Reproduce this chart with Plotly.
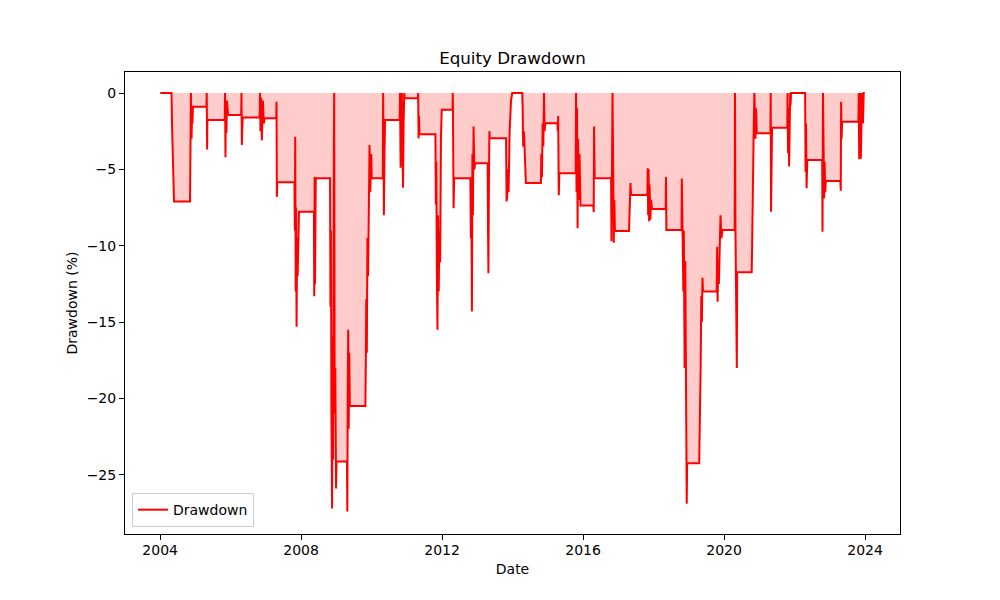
import plotly.graph_objects as go

# Drawdown series (%)
dates = [
    "2004-01-02", "2004-04-28", "2004-05-03", "2004-05-08", "2004-05-14", "2004-05-24",
    "2004-11-06", "2004-11-09", "2004-11-12", "2004-11-15", "2004-11-18", "2004-11-22",
    "2004-11-26", "2004-12-01", "2004-12-06",
    "2005-04-25", "2005-04-28", "2005-05-02", "2005-05-05",
    "2005-11-01", "2005-11-04", "2005-11-08", "2005-11-12", "2005-11-18", "2005-11-24", "2005-12-05",
    "2006-04-20", "2006-04-23", "2006-04-27", "2006-05-02", "2006-05-06",
    "2006-10-28", "2006-11-01", "2006-11-06", "2006-11-12", "2006-11-20", "2006-12-01",
    "2006-12-10", "2006-12-20",
    "2007-04-18", "2007-04-21", "2007-04-25", "2007-04-29",
    "2007-10-24", "2007-10-28", "2007-11-01", "2007-11-06", "2007-11-10", "2007-11-15",
    "2007-11-20", "2007-11-26", "2007-12-03", "2007-12-10",
    "2008-05-13", "2008-05-16", "2008-05-20", "2008-05-24", "2008-05-28", "2008-06-01",
    "2008-10-27", "2008-10-31", "2008-11-05", "2008-11-10", "2008-11-17", "2008-11-22",
    "2008-11-28", "2008-12-05", "2008-12-09", "2008-12-14", "2008-12-20", "2008-12-28",
    "2009-01-02",
    "2009-04-20", "2009-04-24", "2009-04-28", "2009-05-03", "2009-05-08", "2009-05-14", "2009-05-20",
    "2009-10-28", "2009-11-02", "2009-11-06", "2009-11-12", "2009-11-18", "2009-11-25",
    "2009-12-03", "2009-12-10", "2009-12-18", "2009-12-28", "2010-01-02",
    "2010-04-27", "2010-04-30", "2010-05-04", "2010-05-08", "2010-05-14", "2010-05-20",
    "2010-10-18", "2010-10-22", "2010-10-28", "2010-11-03", "2010-11-10", "2010-11-16",
    "2010-11-22", "2010-11-28", "2010-12-05", "2010-12-10",
    "2011-04-25", "2011-04-28", "2011-05-02", "2011-05-06", "2011-05-12",
    "2011-10-24", "2011-10-28", "2011-11-02", "2011-11-08", "2011-11-14", "2011-11-20",
    "2011-11-27", "2011-12-04", "2011-12-12", "2011-12-20", "2011-12-28",
    "2012-04-18", "2012-04-21", "2012-04-25", "2012-04-29", "2012-05-05",
    "2012-10-20", "2012-10-25", "2012-10-30", "2012-11-05", "2012-11-10", "2012-11-15",
    "2012-11-22", "2012-11-30", "2012-12-08",
    "2013-04-17", "2013-04-21", "2013-04-25", "2013-04-30", "2013-05-05", "2013-05-10",
    "2013-10-25", "2013-10-30", "2013-11-05", "2013-11-12", "2013-11-20", "2013-12-01",
    "2013-12-15", "2013-12-28",
    "2014-04-10", "2014-04-14", "2014-04-20", "2014-04-28", "2014-05-06", "2014-05-18",
    "2014-10-21", "2014-10-25", "2014-11-01", "2014-11-08", "2014-11-15", "2014-11-22",
    "2014-11-28", "2014-12-05",
    "2015-04-10", "2015-04-14", "2015-04-18", "2015-04-24", "2015-04-30",
    "2015-10-16", "2015-10-20", "2015-10-25", "2015-10-30", "2015-11-05", "2015-11-10",
    "2015-11-18", "2015-11-25", "2015-12-05",
    "2016-04-16", "2016-04-20", "2016-04-24", "2016-04-30",
    "2016-10-17", "2016-10-21", "2016-10-26", "2016-11-01", "2016-11-08", "2016-11-14",
    "2016-11-20", "2016-11-26",
    "2017-04-21", "2017-04-25", "2017-05-01", "2017-05-06", "2017-05-12",
    "2017-10-28", "2017-11-01", "2017-11-05", "2017-11-10", "2017-11-15", "2017-11-20",
    "2017-11-28", "2017-12-05", "2017-12-15",
    "2018-05-06", "2018-05-09", "2018-05-13",
    "2018-10-17", "2018-10-20", "2018-10-25", "2018-10-30", "2018-11-05", "2018-11-10",
    "2018-11-18", "2018-11-25", "2018-12-03", "2018-12-10", "2018-12-14",
    "2019-04-18", "2019-04-22", "2019-04-27", "2019-05-03", "2019-05-10", "2019-05-16",
    "2019-05-22", "2019-05-28",
    "2019-10-17", "2019-10-21", "2019-10-26", "2019-11-01", "2019-11-08", "2019-11-15",
    "2019-11-25", "2019-12-05", "2019-12-15",
    "2020-04-20", "2020-04-23", "2020-04-28", "2020-05-05", "2020-05-12", "2020-05-16",
    "2020-10-13", "2020-10-17", "2020-10-22", "2020-10-28", "2020-11-04", "2020-11-10",
    "2020-11-16", "2020-11-22", "2020-11-28", "2020-12-05",
    "2021-04-25", "2021-04-28", "2021-05-02", "2021-05-06", "2021-05-12",
    "2021-10-17", "2021-10-20", "2021-10-25", "2021-10-30", "2021-11-05", "2021-11-10",
    "2021-11-16", "2021-11-20", "2021-11-25",
    "2022-04-20", "2022-04-24", "2022-04-29", "2022-05-05", "2022-05-12",
    "2022-10-14", "2022-10-17", "2022-10-22", "2022-10-28", "2022-11-03", "2022-11-08",
    "2022-11-14", "2022-11-20",
    "2023-04-20", "2023-04-24", "2023-04-28", "2023-05-03", "2023-05-08",
    "2023-10-24", "2023-10-28", "2023-11-01", "2023-11-06", "2023-11-12", "2023-11-18",
    "2023-11-24", "2023-12-01", "2023-12-10", "2023-12-18", "2023-12-29",
]

drawdown = [
    0, 0, -2.0, -3.5, -5.5, -7.1,
    -7.1, -5.5, -3.2, 0, -2.5, -3.0,
    -1.5, -2.0, -0.9,
    -0.9, 0, -3.7, -1.77,
    -1.77, 0, -4.2, -1.0, -2.6, -0.5, -1.44,
    -1.44, 0, -3.4, -2.2, -1.6,
    -1.6, 0, -2.5, -0.3, -3.1, -0.5,
    -2.0, -1.66,
    -1.66, -0.57, -6.8, -5.85,
    -5.85, -9.0, -2.86, -13.0, -7.5, -15.3,
    -9.5, -12.0, -8.0, -7.77,
    -7.77, -13.3, -5.5, -12.5, -9.0, -5.58,
    -5.58, -14.0, -9.0, -21.0, -27.2, -16.0,
    -24.0, -4.0, 0, -21.0, -18.0, -25.9,
    -24.13,
    -24.13, -27.4, -20.0, -15.5, -22.0, -17.0, -20.5,
    -20.5, -17.3, -13.5, -17.0, -9.5, -12.0,
    -6.0, -3.4, -6.5, -4.0, -5.58,
    -5.58, 0, -3.0, -8.0, -4.0, -1.77,
    -1.77, 0, -4.9, -1.0, 0, -3.0,
    -6.2, -2.0, 0, -0.35,
    -0.35, 0, -2.97, -1.5, -2.7,
    -2.7, -7.3, -4.5, -12.0, -15.5, -8.0,
    -13.0, -9.0, -11.1, -3.0, -1.1,
    -1.1, 0, -3.5, -7.55, -5.58,
    -5.58, -9.5, -6.0, -14.3, -4.0, -8.0,
    -2.2, -5.0, -4.6,
    -4.6, -9.0, -11.8, -6.0, -2.5, -2.97,
    -2.97, -7.1, -6.8, -5.0, -6.5, -2.5,
    -0.5, 0,
    0, -0.8, -3.5, -2.5, -4.5, -5.9,
    -5.9, -4.0, -5.5, -2.0, -3.5, 0,
    -2.5, -1.98,
    -1.98, -2.5, -1.5, -6.7, -5.25,
    -5.25, 0, -6.5, -1.0, -8.86, -3.0,
    -7.0, -4.0, -7.37,
    -7.37, -7.8, -2.2, -5.58,
    -5.58, -9.7, -3.0, 0, -5.0, -9.8,
    -7.0, -9.03,
    -9.03, -7.5, -8.0, -5.9, -6.68,
    -6.68, -4.93, -8.0, -5.0, -8.4, -6.0,
    -8.3, -7.0, -7.6,
    -7.6, -5.5, -8.97,
    -8.97, -5.6, -9.5, -8.2, -13.0, -9.0,
    -18.0, -11.0, -18.5, -26.9, -24.24,
    -24.24, -21.0, -22.5, -18.0, -13.3, -15.0,
    -12.1, -13.0,
    -13.0, -10.06, -13.66, -11.0, -12.5, -10.0,
    -8.0, -9.5, -8.97,
    -8.97, 0, -9.0, -14.0, -18.0, -11.74,
    -11.74, -10.3, -7.0, -5.15, -2.0, 0,
    -1.5, -3.0, -1.0, -2.64,
    -2.64, 0, -7.77, -3.0, -2.27,
    -2.27, 0, -3.95, -1.0, -4.82, -0.5,
    0, -0.8, 0,
    0, -5.15, -2.0, -6.24, -4.38,
    -4.38, -9.08, 0, -4.0, -6.9, -4.5,
    -6.5, -5.76,
    -5.76, -6.4, -0.57, -3.0, -1.88,
    -1.88, 0, -4.34, -1.0, 0, -4.3,
    -0.5, 0, -2.0, 0, 0,
]

x_tick_years = [2004, 2008, 2012, 2016, 2020, 2024]
y_tick_values = [0, -5, -10, -15, -20, -25]

FONT = "DejaVu Sans"

fig = go.Figure()
fig.add_trace(go.Scatter(
    x=dates, y=drawdown, mode="lines",
    line=dict(width=0, color="rgba(255,0,0,0)"),
    fill="tozeroy", fillcolor="rgba(255,0,0,0.2)",
    showlegend=False, hoverinfo="skip",
))
fig.add_trace(go.Scatter(
    x=dates, y=drawdown, mode="lines", name="Drawdown",
    line=dict(color="red", width=2),
))

axis_common = dict(
    showline=True, mirror=True, linecolor="black", linewidth=1,
    ticks="outside", ticklen=5, tickwidth=1, tickcolor="black",
    showgrid=False, zeroline=False,
    tickfont=dict(family=FONT, size=14, color="black"),
)

fig.update_layout(
    width=1000, height=600,
    margin=dict(l=125, r=100, t=72, b=66),
    paper_bgcolor="white", plot_bgcolor="white",
    font=dict(family=FONT, color="black"),
    title=dict(
        text="Equity Drawdown", x=0.5, xref="paper", xanchor="center",
        y=1 - 58 / 600, yref="container", yanchor="middle",
        font=dict(family=FONT, size=16.7, color="black"),
    ),
    xaxis=dict(
        **axis_common,
        range=["2003-01-02", "2024-12-28"],
        tickvals=[f"{y}-01-01" for y in x_tick_years],
        ticktext=[str(y) for y in x_tick_years],
        ticklabelstandoff=-2,
        title=dict(text="Date", font=dict(family=FONT, size=14, color="black"), standoff=7),
    ),
    yaxis=dict(
        **axis_common,
        range=[-28.875, 1.375],
        tickvals=y_tick_values,
        ticktext=[str(v).replace("-", "\u2212") for v in y_tick_values],
        title=dict(text="Drawdown (%)", font=dict(family=FONT, size=14, color="black"), standoff=5),
    ),
    legend=dict(
        x=0.009, y=0.015, xanchor="left", yanchor="bottom",
        bordercolor="#cccccc", borderwidth=1, bgcolor="rgba(255,255,255,0.8)",
        font=dict(family=FONT, size=14, color="black"),
    ),
)

fig.write_html("out.html")
